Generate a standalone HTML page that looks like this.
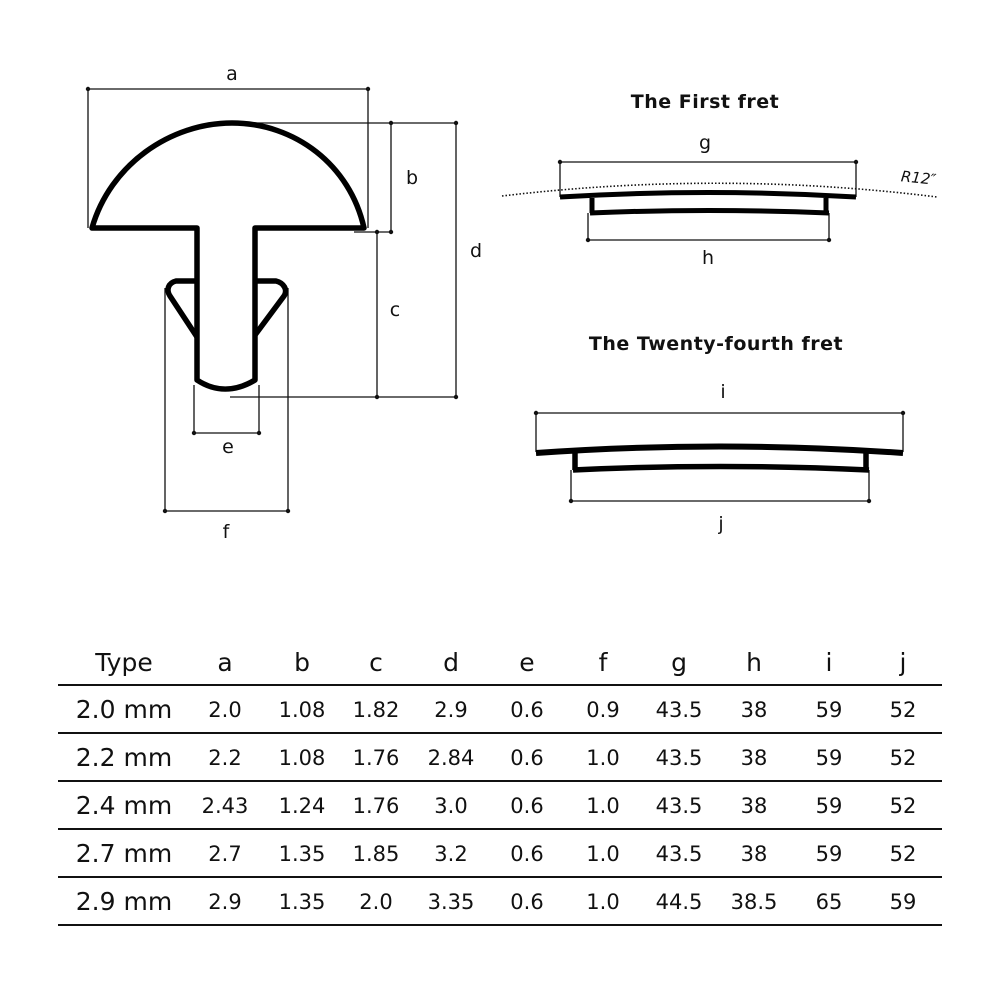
<!DOCTYPE html>
<html><head><meta charset="utf-8"><style>
html,body{margin:0;padding:0;background:#fff;}
svg{display:block;}
text{font-family:"DejaVu Sans","Liberation Sans",sans-serif;fill:#111;}
</style></head><body>
<svg width="1000" height="1000" viewBox="0 0 1000 1000" xmlns="http://www.w3.org/2000/svg">
<g stroke="#111" stroke-width="1.3" fill="none">
<path d="M88 228V89H368V228"/>
<path d="M232 123H456M354 232H391M391 123V232"/>
<path d="M377 232V397M456 123V397M230 397H456"/>
<path d="M194 385V433H259V385"/>
<path d="M165 288V511H288V288"/>
<path d="M560 197V162H856V197M588 213V240H829V213"/>
<path d="M536 452V413H903V452M571 470V501H869V470"/>
</g>
<g fill="#111">
<circle cx="88" cy="89" r="2.2"/><circle cx="368" cy="89" r="2.2"/>
<circle cx="391" cy="123" r="2.2"/><circle cx="391" cy="232" r="2.2"/>
<circle cx="456" cy="123" r="2.2"/><circle cx="456" cy="397" r="2.2"/>
<circle cx="377" cy="232" r="2.2"/><circle cx="377" cy="397" r="2.2"/>
<circle cx="194" cy="433" r="2.2"/><circle cx="259" cy="433" r="2.2"/>
<circle cx="165" cy="511" r="2.2"/><circle cx="288" cy="511" r="2.2"/>
<circle cx="560" cy="162" r="2.2"/><circle cx="856" cy="162" r="2.2"/>
<circle cx="588" cy="240" r="2.2"/><circle cx="829" cy="240" r="2.2"/>
<circle cx="536" cy="413" r="2.2"/><circle cx="903" cy="413" r="2.2"/>
<circle cx="571" cy="501" r="2.2"/><circle cx="869" cy="501" r="2.2"/>
</g>
<g stroke="#000" stroke-width="5.5" fill="none" stroke-linejoin="round">
<path d="M92 228 C110 165 170 123 232 123 C295 123 350 165 364 228 H255 V380 C235 392 215 392 197 380 V228 Z"/>
<path d="M197 281 H176 C168 283 166 290 170 296 L197 337"/>
<path d="M255 281 H276 C284 283 288 290 284 296 L255 335"/>
</g>
<path d="M502 196 Q720 170 937 197" stroke="#111" stroke-width="1.6" stroke-dasharray="1.5 2" fill="none"/>
<g stroke="#000" fill="none">
<path d="M560 197 Q708 188 856 197" stroke-width="5"/>
<path d="M592 198V213M826 198V213" stroke-width="5"/>
<path d="M590 213 Q708 208 829 213" stroke-width="5"/>
<path d="M536 453 Q720 440 903 453" stroke-width="6"/>
<path d="M575 453V470M866 453V470" stroke-width="5.5"/>
<path d="M573 470 Q720 463 869 470" stroke-width="5.5"/>
</g>
<text x="901" y="183" font-size="15" font-style="italic" transform="rotate(6 918 177)">R12″</text>
<g font-size="19" text-anchor="middle">
<text x="232" y="80">a</text><text x="412" y="184">b</text><text x="395" y="316">c</text>
<text x="476" y="257">d</text><text x="228" y="453">e</text><text x="226" y="538">f</text>
<text x="705" y="149">g</text><text x="708" y="264">h</text><text x="723" y="398">i</text><text x="721" y="530">j</text>
</g>
<g font-size="19" font-weight="bold" text-anchor="middle" letter-spacing="0.5">
<text x="705" y="108">The First fret</text>
<text x="716" y="350">The Twenty-fourth fret</text>
</g>
<g stroke="#111" stroke-width="2">
<path d="M58 685H942M58 733H942M58 781H942M58 829H942M58 877H942M58 925H942"/>
</g>
<g font-size="25" text-anchor="middle">
<text x="124" y="671">Type</text><text x="225" y="671">a</text><text x="302" y="671">b</text><text x="376" y="671">c</text><text x="451" y="671">d</text><text x="527" y="671">e</text><text x="603" y="671">f</text><text x="679" y="671">g</text><text x="754" y="671">h</text><text x="829" y="671">i</text><text x="903" y="671">j</text>
<text x="124" y="718">2.0 mm</text><text x="124" y="766">2.2 mm</text><text x="124" y="814">2.4 mm</text><text x="124" y="862">2.7 mm</text><text x="124" y="910">2.9 mm</text>
</g>
<g font-size="21" text-anchor="middle">
<text y="717"><tspan x="225">2.0</tspan><tspan x="302">1.08</tspan><tspan x="376">1.82</tspan><tspan x="451">2.9</tspan><tspan x="527">0.6</tspan><tspan x="603">0.9</tspan><tspan x="679">43.5</tspan><tspan x="754">38</tspan><tspan x="829">59</tspan><tspan x="903">52</tspan></text>
<text y="765"><tspan x="225">2.2</tspan><tspan x="302">1.08</tspan><tspan x="376">1.76</tspan><tspan x="451">2.84</tspan><tspan x="527">0.6</tspan><tspan x="603">1.0</tspan><tspan x="679">43.5</tspan><tspan x="754">38</tspan><tspan x="829">59</tspan><tspan x="903">52</tspan></text>
<text y="813"><tspan x="225">2.43</tspan><tspan x="302">1.24</tspan><tspan x="376">1.76</tspan><tspan x="451">3.0</tspan><tspan x="527">0.6</tspan><tspan x="603">1.0</tspan><tspan x="679">43.5</tspan><tspan x="754">38</tspan><tspan x="829">59</tspan><tspan x="903">52</tspan></text>
<text y="861"><tspan x="225">2.7</tspan><tspan x="302">1.35</tspan><tspan x="376">1.85</tspan><tspan x="451">3.2</tspan><tspan x="527">0.6</tspan><tspan x="603">1.0</tspan><tspan x="679">43.5</tspan><tspan x="754">38</tspan><tspan x="829">59</tspan><tspan x="903">52</tspan></text>
<text y="909"><tspan x="225">2.9</tspan><tspan x="302">1.35</tspan><tspan x="376">2.0</tspan><tspan x="451">3.35</tspan><tspan x="527">0.6</tspan><tspan x="603">1.0</tspan><tspan x="679">44.5</tspan><tspan x="754">38.5</tspan><tspan x="829">65</tspan><tspan x="903">59</tspan></text>
</g>
</svg>
</body></html>
